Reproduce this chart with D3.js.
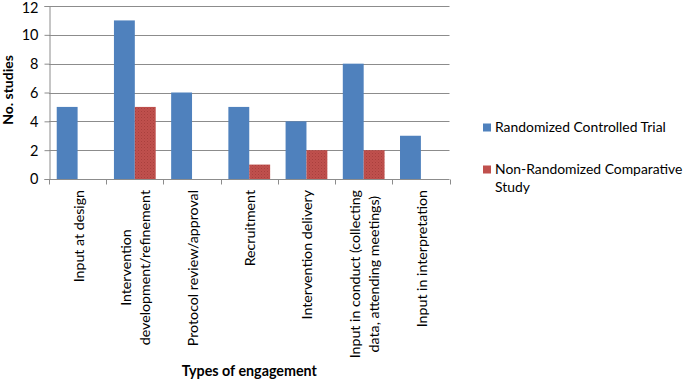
<!DOCTYPE html>
<html><head><meta charset="utf-8">
<script src="https://cdn.jsdelivr.net/npm/d3@7"></script>
<style>body{margin:0;background:#fff}svg{display:block;font-family:Lato,"Open Sans",sans-serif}</style>
</head><body><svg id="c" width="685" height="380"></svg>
<script>
const categories = [
  ["Input at design"],
  ["Intervention", "development/refinement"],
  ["Protocol review/approval"],
  ["Recruitment"],
  ["Intervention delivery"],
  ["Input in conduct (collecting", "data, attending meetings)"],
  ["Input in interpretation"]
];
const seriesNames = ["Randomized Controlled Trial", "Non-Randomized Comparative Study"];
const rctValues = [5, 11, 6, 5, 4, 8, 3];
const nrcsValues = [0, 5, 0, 1, 2, 2, 0];
const yTicks = [0, 2, 4, 6, 8, 10, 12];
const colors = ["#4F81BD", "#C0504D"];

const svg = d3.select("#c");
const defs = svg.append("defs");
const pat = defs.append("pattern").attr("id","dots").attr("width",3).attr("height",3).attr("patternUnits","userSpaceOnUse");
pat.append("rect").attr("width",3).attr("height",3).attr("fill",colors[1]);
pat.append("rect").attr("x",0).attr("y",0).attr("width",1).attr("height",1).attr("fill","#a8403d");
pat.append("rect").attr("x",1.5).attr("y",1.5).attr("width",1).attr("height",1).attr("fill","#b04744");

const L = 49, R = 449.5, T = 6, B = 179;
const x = d3.scaleBand().domain(d3.range(categories.length)).range([L, R]).paddingInner(0).paddingOuter(0);
const x1 = d3.scaleBand().domain([0,1]).range([0, x.bandwidth()]).paddingInner(0).paddingOuter(0.37);
const y = d3.scaleLinear().domain([0, 12]).range([B, T]);

// gridlines
svg.append("g").selectAll("line").data(yTicks.filter(d=>d>0)).join("line")
  .attr("x1", L).attr("x2", R).attr("y1", d=>Math.round(y(d))+0.5).attr("y2", d=>Math.round(y(d))+0.5)
  .attr("stroke", "#8c8c8c").attr("stroke-width", 1);

// y axis
const yAxis = svg.append("g").attr("transform", `translate(${L+0.5},0)`)
  .call(d3.axisLeft(y).tickValues(yTicks).tickSize(5).tickPadding(6).tickFormat(d3.format("d")));
yAxis.select(".domain").attr("stroke", "#8c8c8c");
yAxis.selectAll(".tick line").attr("stroke", "#8c8c8c");
yAxis.selectAll(".tick text").attr("font-size", 14.5).attr("font-family","Lato,sans-serif").attr("fill","#000")
  .attr("dy", d => d === 12 ? "0.45em" : "0.34em");

// bars
const series = [rctValues, nrcsValues];
series.forEach((vals, si) => {
  svg.append("g").selectAll("rect").data(vals).join("rect")
    .attr("x", (d,i)=> x(i) + x1(si))
    .attr("width", x1.bandwidth())
    .attr("y", d=> y(d))
    .attr("height", d=> B - y(d))
    .attr("fill", si===0 ? colors[0] : "url(#dots)");
});

// x axis
const xAxis = svg.append("g").attr("transform", `translate(0,${B+0.5})`);
xAxis.append("line").attr("x1", L).attr("x2", R).attr("stroke", "#8c8c8c");
const bounds = d3.range(categories.length+1).map(i => i < categories.length ? x(i) : R);
xAxis.selectAll("line.tk").data(bounds).join("line").attr("class","tk")
  .attr("x1", d=>Math.round(d)+0.5).attr("x2", d=>Math.round(d)+0.5).attr("y1",0).attr("y2",5).attr("stroke","#8c8c8c");

// x labels (rotated)
const lh = 19;
categories.forEach((lines, i) => {
  const cx = x(i) + x.bandwidth()/2;
  const g = svg.append("g").attr("transform", `translate(${cx},190) rotate(-90)`);
  const tmp = g.selectAll("text").data(lines).join("text")
    .attr("font-size", 14.2).attr("fill", "#000")
    .attr("text-anchor","middle")
    .text(d=>d);
  const widths = tmp.nodes().map(n=>n.getComputedTextLength());
  const maxW = d3.max(widths);
  const n = lines.length;
  tmp.attr("x", -maxW/2)
     .attr("y", (d,j)=> (j - (n-1)/2) * lh + 6);
});

// axis titles
svg.append("text").attr("x", (L+R)/2).attr("y", 376).attr("text-anchor","middle")
  .attr("font-size", 14.3).attr("font-weight","bold").text("Types of engagement");
svg.append("text").attr("transform","translate(12.5,90) rotate(-90)").attr("text-anchor","middle")
  .attr("font-size", 14).attr("font-weight","bold").text("No. studies");

// legend
const lg = svg.append("g");
lg.append("rect").attr("x",483).attr("y",123.5).attr("width",8).attr("height",8).attr("fill",colors[0]);
lg.append("text").attr("x",495).attr("y",132).attr("font-size",13.9).text(seriesNames[0]);
lg.append("rect").attr("x",483).attr("y",165.5).attr("width",8).attr("height",8).attr("fill",colors[1]);
const t2 = lg.append("text").attr("x",495).attr("y",174).attr("font-size",13.9);
t2.append("tspan").attr("x",495).text("Non-Randomized Comparative");
t2.append("tspan").attr("x",495).attr("dy",18).text("Study");
</script></body></html>
